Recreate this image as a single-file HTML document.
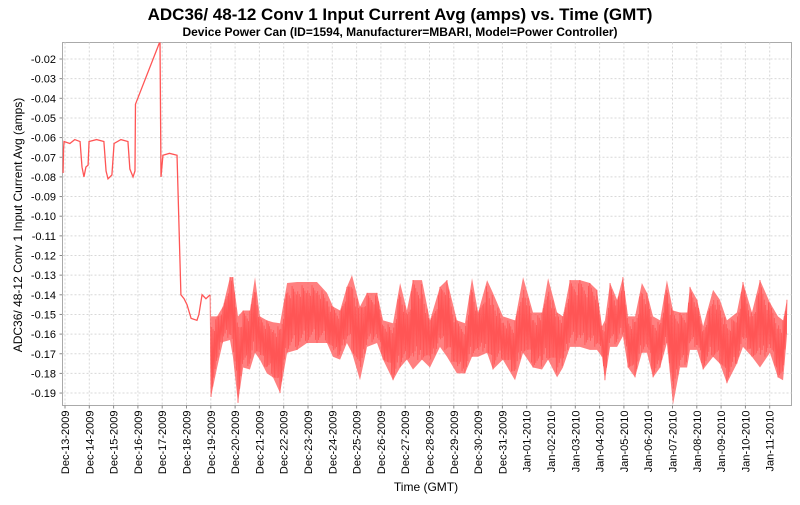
<!DOCTYPE html>
<html><head><meta charset="utf-8"><style>
body{margin:0;background:#fff;font-family:"Liberation Sans",sans-serif}
svg text{font-family:"Liberation Sans","DejaVu Sans",sans-serif}
</style></head><body>
<svg id="chart" width="800" height="500" xmlns="http://www.w3.org/2000/svg">
<text x="400" y="20" text-anchor="middle" font-size="17" font-weight="bold" font-family="DejaVu Sans, sans-serif">ADC36/ 48-12 Conv 1 Input Current Avg (amps) vs. Time (GMT)</text>
<text x="400" y="36" text-anchor="middle" font-size="12" font-weight="bold" font-family="DejaVu Sans, sans-serif">Device Power Can (ID=1594, Manufacturer=MBARI, Model=Power Controller)</text>
<rect x="62.5" y="42.5" width="729" height="363" fill="#fff" stroke="#aaa"/>
<g id="grid"></g>
<g id="series"></g>
<g id="yaxis"></g>
<g id="xaxis"></g>
<text transform="translate(22,225) rotate(-90)" text-anchor="middle" font-size="12" font-family="DejaVu Sans, sans-serif">ADC36/ 48-12 Conv 1 Input Current Avg (amps)</text>
<text x="426" y="491" text-anchor="middle" font-size="12" font-family="DejaVu Sans, sans-serif">Time (GMT)</text>
</svg>
<script>
const yTicks=[-0.02,-0.03,-0.04,-0.05,-0.06,-0.07,-0.08,-0.09,-0.10,-0.11,-0.12,-0.13,-0.14,-0.15,-0.16,-0.17,-0.18,-0.19];
const yTickLabels=["-0.02","-0.03","-0.04","-0.05","-0.06","-0.07","-0.08","-0.09","-0.10","-0.11","-0.12","-0.13","-0.14","-0.15","-0.16","-0.17","-0.18","-0.19"];
const xTickDays=[0,1,2,3,4,5,6,7,8,9,10,11,12,13,14,15,16,17,18,19,20,21,22,23,24,25,26,27,28,29];
const xTickLabels=["Dec-13-2009","Dec-14-2009","Dec-15-2009","Dec-16-2009","Dec-17-2009","Dec-18-2009","Dec-19-2009","Dec-20-2009","Dec-21-2009","Dec-22-2009","Dec-23-2009","Dec-24-2009","Dec-25-2009","Dec-26-2009","Dec-27-2009","Dec-28-2009","Dec-29-2009","Dec-30-2009","Dec-31-2009","Jan-01-2010","Jan-02-2010","Jan-03-2010","Jan-04-2010","Jan-05-2010","Jan-06-2010","Jan-07-2010","Jan-08-2010","Jan-09-2010","Jan-10-2010","Jan-11-2010"];
const earlyDays=[-0.08,-0.06,-0.04,0.20,0.40,0.62,0.70,0.78,0.86,0.95,0.99,1.30,1.60,1.69,1.77,1.93,2.02,2.30,2.59,2.67,2.80,2.88,2.90,3.91,3.95,4.03,4.30,4.61,4.77,4.90,5.02,5.19,5.43,5.51,5.64,5.80,5.97];
const earlyVals=[-0.078,-0.066,-0.062,-0.063,-0.061,-0.062,-0.075,-0.080,-0.075,-0.074,-0.062,-0.061,-0.062,-0.077,-0.081,-0.079,-0.063,-0.061,-0.062,-0.076,-0.080,-0.077,-0.043,-0.011,-0.080,-0.069,-0.068,-0.069,-0.140,-0.142,-0.145,-0.152,-0.153,-0.150,-0.140,-0.142,-0.140];
const denseDays=[6.01,6.26,6.50,6.79,6.91,7.12,7.33,7.61,7.82,8.02,8.31,8.56,8.85,9.14,9.55,9.96,10.37,10.78,11.03,11.32,11.60,11.81,12.14,12.43,12.84,13.09,13.50,13.79,14.07,14.32,14.69,15.02,15.43,15.72,16.13,16.46,16.75,17.00,17.37,17.61,18.02,18.52,18.85,19.26,19.63,19.88,20.25,20.49,20.78,21.19,21.60,21.89,22.10,22.22,22.43,22.72,22.96,23.17,23.46,23.74,23.95,24.20,24.49,24.77,25.02,25.31,25.60,25.72,26.01,26.26,26.67,26.95,27.24,27.65,27.90,28.27,28.60,29.01,29.34,29.55,29.71];
const denseHigh=[-0.151,-0.151,-0.146,-0.131,-0.131,-0.151,-0.148,-0.148,-0.131,-0.151,-0.153,-0.154,-0.1545,-0.134,-0.1335,-0.1335,-0.1335,-0.139,-0.146,-0.148,-0.136,-0.130,-0.146,-0.139,-0.139,-0.153,-0.1545,-0.134,-0.148,-0.1325,-0.1325,-0.153,-0.136,-0.1325,-0.153,-0.1545,-0.1315,-0.149,-0.1325,-0.139,-0.151,-0.153,-0.131,-0.149,-0.149,-0.1315,-0.149,-0.151,-0.1325,-0.1325,-0.134,-0.1375,-0.156,-0.153,-0.134,-0.1425,-0.131,-0.151,-0.151,-0.134,-0.139,-0.151,-0.153,-0.1325,-0.148,-0.149,-0.149,-0.136,-0.1425,-0.156,-0.1375,-0.1425,-0.153,-0.149,-0.1335,-0.149,-0.1325,-0.144,-0.151,-0.153,-0.1425];
const denseLow=[-0.192,-0.177,-0.164,-0.163,-0.1715,-0.195,-0.177,-0.178,-0.1695,-0.173,-0.180,-0.182,-0.190,-0.1695,-0.168,-0.1645,-0.1645,-0.1645,-0.1715,-0.173,-0.1645,-0.1695,-0.1835,-0.1665,-0.1645,-0.173,-0.1835,-0.177,-0.173,-0.178,-0.173,-0.177,-0.1665,-0.1715,-0.180,-0.180,-0.1715,-0.1715,-0.1695,-0.178,-0.173,-0.1835,-0.1695,-0.177,-0.178,-0.173,-0.182,-0.177,-0.1665,-0.1665,-0.168,-0.168,-0.1715,-0.1835,-0.1665,-0.1665,-0.161,-0.177,-0.182,-0.1695,-0.1695,-0.182,-0.177,-0.1645,-0.196,-0.177,-0.177,-0.168,-0.168,-0.178,-0.1715,-0.175,-0.185,-0.175,-0.1665,-0.1715,-0.177,-0.1695,-0.182,-0.1835,-0.161];

const NS='http://www.w3.org/2000/svg';
const X0=65,PX_PER_DAY=24.3,Y_REF=-0.02,Y_REF_PX=59,PX_PER_UNIT=1965;
const PLOT={l:62.5,r:791.5,t:42.5,b:405.5};
function xs(d){return X0+d*PX_PER_DAY;}
function ys(v){return Y_REF_PX+(Y_REF-v)*PX_PER_UNIT;}
function mk(tag,attrs,parent){const e=document.createElementNS(NS,tag);for(const k in attrs)e.setAttribute(k,attrs[k]);parent.appendChild(e);return e;}
const grid=document.getElementById('grid'),yax=document.getElementById('yaxis'),xax=document.getElementById('xaxis'),ser=document.getElementById('series');
yTicks.forEach((v,i)=>{const y=ys(v);
 const g=mk('line',{x1:PLOT.l,x2:PLOT.r,y1:y,y2:y,stroke:'#d8d8d8','stroke-dasharray':'2,2'},grid);
 
 
 const t=mk('line',{x1:PLOT.l-3,x2:PLOT.l,y1:y,y2:y,stroke:'#888'},yax);
 
 
 const l=mk('text',{x:56,y:y+4,'text-anchor':'end','font-size':'11'},yax);
 l.textContent=yTickLabels[i];
 
 
});
xTickDays.forEach((d,i)=>{const x=xs(d);
 const g=mk('line',{x1:x,x2:x,y1:PLOT.t,y2:PLOT.b,stroke:'#d8d8d8','stroke-dasharray':'2,2'},grid);
 
 
 const t=mk('line',{x1:x,x2:x,y1:PLOT.b,y2:PLOT.b+3,stroke:'#888'},xax);
 
 
 const l=mk('text',{transform:`translate(${x+4},${PLOT.b+5}) rotate(-90)`,'text-anchor':'end','font-size':'11'},xax);
 l.textContent=xTickLabels[i];
 
 
});
const clip=mk('clipPath',{id:'pc'},document.getElementById('chart'));
mk('rect',{x:PLOT.l,y:PLOT.t,width:PLOT.r-PLOT.l,height:PLOT.b-PLOT.t},clip);
ser.setAttribute('clip-path','url(#pc)');
const early=mk('polyline',{points:earlyDays.map((d,i)=>xs(d)+','+ys(earlyVals[i])).join(' '),fill:'none',stroke:'#ff5555','stroke-width':'1.3'},ser);


const poly=denseDays.map((d,i)=>xs(d)+','+ys(denseHigh[i])).concat(denseDays.slice().reverse().map((d,j)=>{const i=denseDays.length-1-j;return xs(d)+','+ys(denseLow[i]);}));
const fill=mk('polygon',{points:poly.join(' '),fill:'#ff5555','fill-opacity':'0.75',stroke:'none'},ser);


const zz=[xs(earlyDays[earlyDays.length-1])+','+ys(earlyVals[earlyVals.length-1])];
let flip=0;
for(let i=0;i<denseDays.length-1;i++){
 const x1=xs(denseDays[i]),x2=xs(denseDays[i+1]);const n=Math.max(1,Math.round((x2-x1)/0.7));
 for(let k=0;k<n;k++){const f=k/n;const x=x1+(x2-x1)*f;
  const hi=denseHigh[i]+(denseHigh[i+1]-denseHigh[i])*f,lo=denseLow[i]+(denseLow[i+1]-denseLow[i])*f;
  const mid=(hi+lo)/2,amp=(hi-lo)/2;const s=(k===0)?1:(0.55+0.35*((k*7)%5)/4);
  const v=flip?mid+amp*s:mid-amp*s;flip=1-flip;zz.push(x.toFixed(2)+','+ys(v).toFixed(2));}
}
zz.push(xs(denseDays[denseDays.length-1])+','+ys(denseHigh[denseHigh.length-1]));
const line=mk('polyline',{points:zz.join(' '),fill:'none',stroke:'#ff5555','stroke-width':'0.8'},ser);


</script>
</body></html>
